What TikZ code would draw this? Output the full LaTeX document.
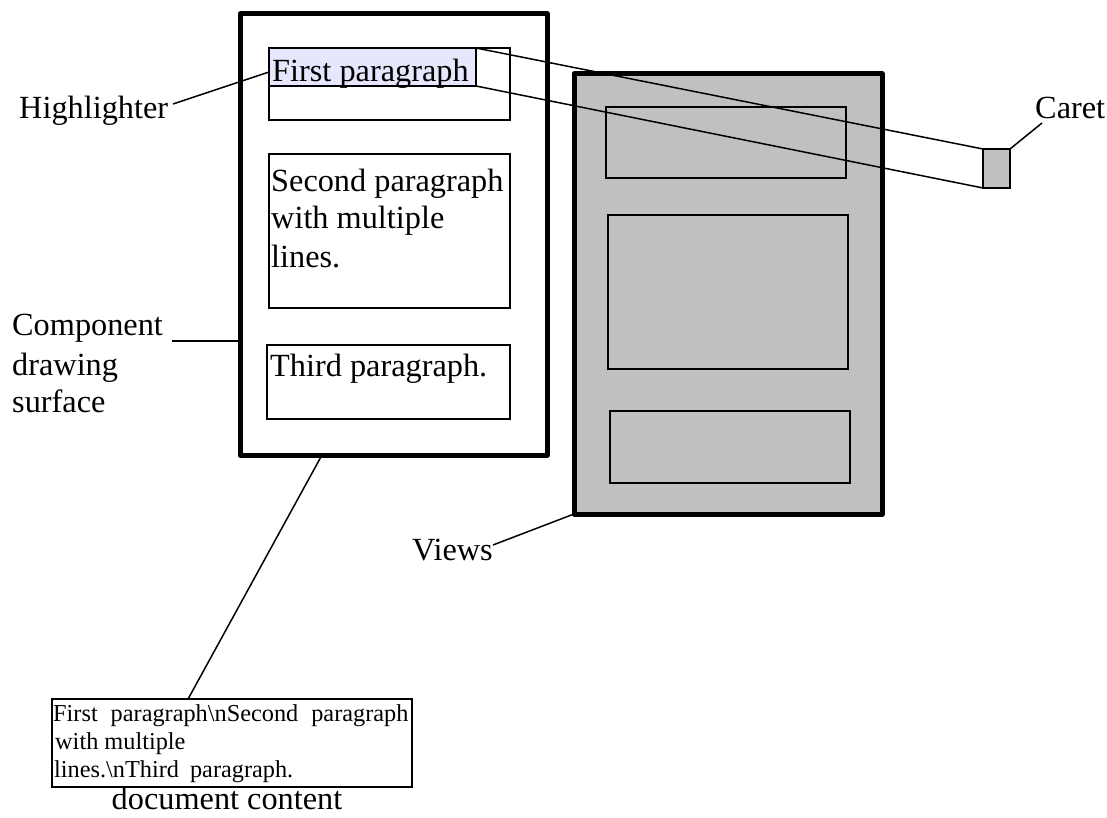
\documentclass[tikz,border=0pt]{standalone}
\usepackage{fontspec}
\setmainfont{Liberation Serif}
\usetikzlibrary{calc}
\definecolor{viewgray}{RGB}{192,192,192}
\definecolor{hilite}{RGB}{230,230,252}
\begin{document}
\begin{tikzpicture}[x=1pt,y=-1pt,
  thin line/.style={line width=1.5pt},
  frame/.style={draw,line width=5pt,line join=round,inner sep=0pt,outer sep=0pt,anchor=north west},
  pbox/.style={draw,line width=1.5pt,inner sep=0pt,outer sep=0pt,anchor=north west},
  big/.style={font=\fontsize{32.3}{38}\selectfont,inner sep=0pt,anchor=base west},
  small/.style={font=\fontsize{24.3}{28}\selectfont,inner sep=0pt}]
\useasboundingbox (0,0) rectangle (1107,818);
% left frame
\node[frame,minimum width=307pt,minimum height=441pt] (lframe) at (240,14) {};
\node[pbox,minimum width=241pt,minimum height=72pt] (p1) at (269,48) {};
\node[pbox,fill=hilite,minimum width=207pt,minimum height=38pt] (hl) at (269,48) {};
\node[big] (t1) at (272,82) {First paragraph};
\node[pbox,minimum width=241pt,minimum height=154pt] (p2) at (269,154) {};
\node[big] (t2a) at (271,192) {Second paragraph};
\node[big] (t2b) at (271,229) {with multiple};
\node[big] (t2c) at (271,267) {lines.};
\node[pbox,minimum width=243pt,minimum height=74pt] (p3) at (267,345) {};
\node[big] (t3) at (270,376) {Third paragraph.};
% right frame
\node[frame,fill=viewgray,minimum width=308pt,minimum height=440pt] (rframe) at (574,74) {};
\node[pbox,minimum width=240pt,minimum height=71pt] (v1) at (606,107) {};
\node[pbox,minimum width=240pt,minimum height=154pt] (v2) at (608,215) {};
\node[pbox,minimum width=240pt,minimum height=72pt] (v3) at (610,411) {};
% caret
\node[pbox,fill=viewgray,minimum width=27pt,minimum height=39pt] (caret) at (983,149) {};
\draw[thin line] (hl.north east) -- (caret.north west);
\draw[thin line] (hl.south east) -- (caret.south west);
% labels
\node[big] (caretlbl) at (1035,119) {Caret};
\coordinate (caretend) at (1042,123);
\draw[thin line] (caret.north east) -- (caretend);
\node[big] (hllbl) at (19,119) {Highlighter};
\coordinate (hlend) at (173,104);
\draw[thin line] (hlend) -- (269,72);
\node[big] (comp1) at (12,335) {Component};
\node[big] (comp2) at (12,375) {drawing};
\node[big] (comp3) at (12,412) {surface};
\coordinate (compend) at (172,341);
\draw[thin line] (compend) -- (compend -| lframe.west);
\node[big] (views) at (412,560) {Views};
\coordinate (viewsend) at (493,545);
\draw[thin line] (viewsend) -- (rframe.south west);
% document content
\node[pbox,minimum width=360pt,minimum height=88pt] (doc) at (52,699) {};
\node[small,anchor=base west] (d1) at (53,721) {First\hspace{13pt}paragraph\textbackslash nSecond\hspace{13pt}paragraph};
\node[small,anchor=base west] (d2) at (55,749) {with multiple};
\node[small,anchor=base west] (d3) at (54,777) {lines.\textbackslash nThird\hspace{11pt}paragraph.};
\node[big,anchor=base] (doclbl) at (227,809) {document content};
\draw[thin line] ($(doc.north west)!0.378!(doc.north east)$) -- ($(lframe.south west)!0.267!(lframe.south east)$);
\end{tikzpicture}
\end{document}
